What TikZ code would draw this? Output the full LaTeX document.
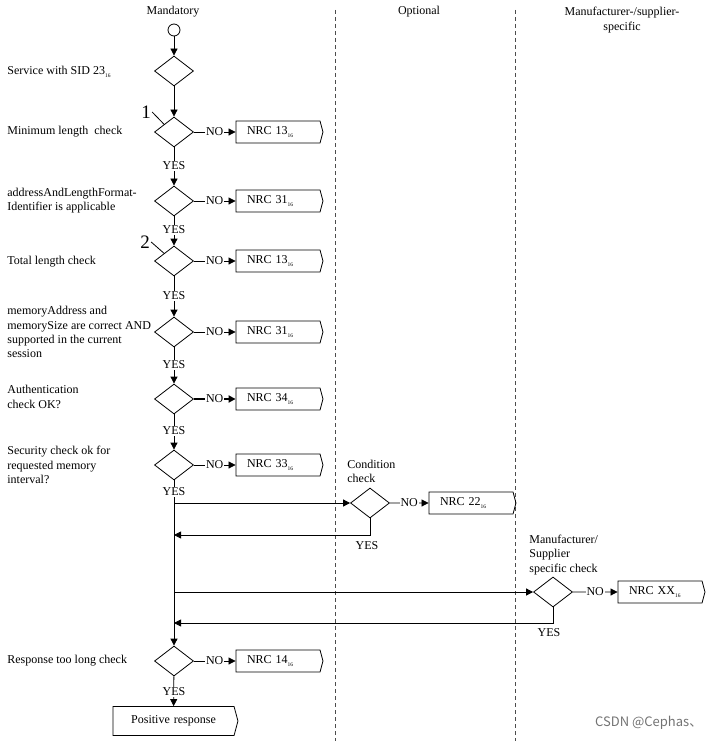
\documentclass[tikz,border=0pt]{standalone}
\usepackage{fontspec}
\setmainfont{Liberation Serif}
\newfontfamily\cjkfont{Noto Sans CJK SC}
\usepackage{tikz}
\usetikzlibrary{shapes.geometric,shapes.symbols,arrows.meta}

\newcommand{\hexsub}[1]{#1\raisebox{-2.5pt}{\fontsize{5.5}{5.5}\selectfont 16}}

\begin{document}
\begin{tikzpicture}[x=1pt, y=-1pt, line width=0.8pt,
    font=\fontsize{12}{14.2}\selectfont,
    >={Triangle[length=7pt,width=7pt]},
    dec/.style={diamond, draw, minimum width=39pt, minimum height=30pt, inner sep=0pt},
    nrc/.style={signal, signal to=east, signal pointer angle=150, draw,
        minimum width=87pt, minimum height=22pt, inner sep=0pt,
        text width=62pt, align=left},
    lbl/.style={anchor=west, align=left, inner sep=0pt},
    yes/.style={fill=white, inner sep=1pt},
    lane/.style={gray!60!black, dash pattern=on 4pt off 3pt}]
    \useasboundingbox (0,0) rectangle (715,741);
    % Swim lanes
    \draw[lane] (335,10) -- (335,741);
    \draw[lane] (515,10) -- (515,741);
    \node (hman) at (173,12) {Mandatory};
    \node (hopt) at (419,12) {Optional};
    \node[align=center] (hmfr) at (622,20) {Manufacturer-/supplier-\\specific};
    % Start
    \node[circle, draw, minimum size=12pt, inner sep=0pt] (start) at (174,30) {};
    \node[dec] (d1) at (174,71) {};
    \draw[->] (start) -- (d1);
    % Mandatory checks with negative response
    \foreach \n/\y/\code/\w in {2/132/13/0.8, 3/201/31/0.8, 4/261/13/0.8, 5/332/31/0.8,
            6/399/34/1.8, 7/465/33/0.8, 8/661/14/0.8} {
        \node[dec] (d\n) at (174,\y) {};
        \node[nrc] (e\n) at (278,\y) {\hexsub{NRC \code}};
        \draw[->, line width=\w pt] (d\n.east) -- node[yes] {NO} (e\n.west);
    }
    \draw[->] (d1) -- (d2);
    % Positive path
    \foreach \a/\b/\y in {2/3/166, 3/4/230, 4/5/296, 5/6/365, 6/7/431} {
        \draw[->] (d\a) -- (d\b);
        \node[yes] (y\a) at (174,\y) {YES};
    }
    \draw[->] (d7) -- (d8);
    \node[yes] (y7) at (174,492) {YES};
    % Step labels
    \node[font=\fontsize{19}{19}\selectfont, inner sep=1pt] (m1) at (146,112) {1};
    \draw (m1.east) -- (d2.north west);
    \node[font=\fontsize{19}{19}\selectfont, inner sep=1pt] (m2) at (145,242) {2};
    \draw (m2.east) -- (d4.north west);
    % Descriptions
    \node[lbl] (t1) at (7,72) {Service with SID \hexsub{23}};
    \node[lbl] (t2) at (7,132) {Minimum length\ \ check};
    \node[lbl] (t3) at (7,201) {addressAndLengthFormat-\\Identifier is applicable};
    \node[lbl] (t4) at (7,262) {Total length check};
    \node[lbl] (t5) at (7,332) {memoryAddress and\\memorySize are correct AND\\supported in the current\\session};
    \node[lbl] (t6) at (7,397) {Authentication\\check OK?};
    \node[lbl] (t7) at (7,465) {Security check ok for\\requested memory\\interval?};
    \node[lbl] (t8) at (7,661) {Response too long check};
    % Optional condition check
    \node[dec] (cond) at (370,503) {};
    \node[nrc] (e9) at (471,503) {\hexsub{NRC 22}};
    \node[lbl] (t9) at (347,471) {Condition\\check};
    \coordinate (b1) at (174,503);
    \coordinate (r1) at (174,535);
    \draw[->] (b1) -- (cond);
    \draw[->] (cond) -- node[yes] {NO} (e9);
    \draw[->] (cond.south) |- (r1);
    \node (y9) at (367,546) {YES};
    % Manufacturer specific check
    \node[dec] (mfr) at (553,592) {};
    \node[nrc] (e10) at (660,592) {\hexsub{NRC XX}};
    \node[lbl] (t10) at (529,555) {Manufacturer/\\Supplier\\specific check};
    \coordinate (b2) at (174,592);
    \coordinate (r2) at (174,623);
    \draw[->] (b2) -- (mfr);
    \draw[->] (mfr) -- node[yes] {NO} (e10);
    \draw[->] (mfr.south) |- (r2);
    \node (y10) at (549,633) {YES};
    % Positive response
    \node[nrc, minimum width=125pt, minimum height=29pt, text width=100pt, align=center] (pos) at (173.5,721) {Positive response};
    \draw[->] (d8) -- (pos);
    \node[yes] (y8) at (174,692) {YES};
    \node[anchor=east, text=black!55, font=\cjkfont\fontsize{13}{15}\selectfont] (wm) at (706,723) {CSDN @Cephas、};
\end{tikzpicture}
\end{document}
